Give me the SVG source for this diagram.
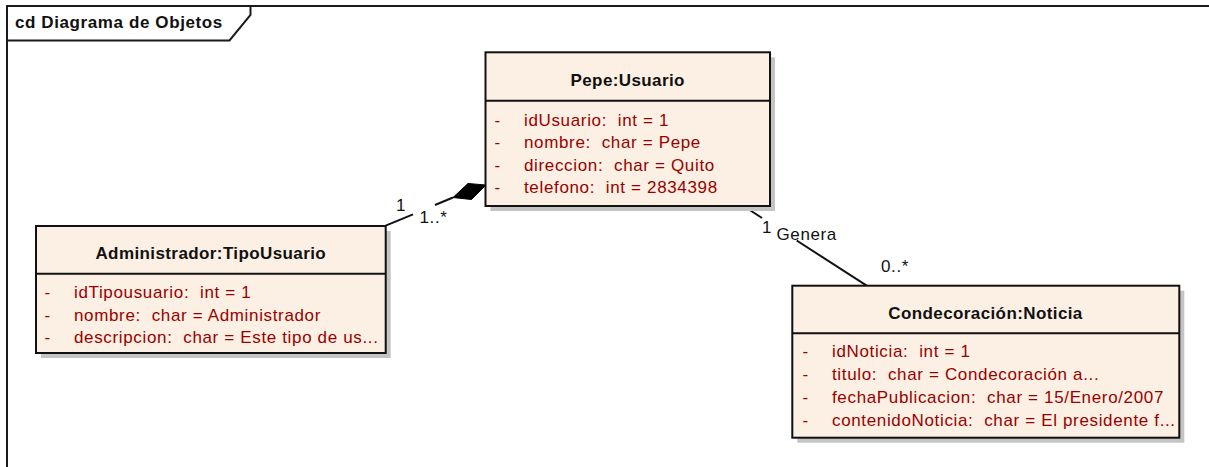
<svg xmlns="http://www.w3.org/2000/svg" width="1209" height="467" viewBox="0 0 1209 467">
<style>
.frame{fill:none;stroke:#1a1a1a;stroke-width:2}
.box{fill:#FBF0E3;stroke:#111;stroke-width:2}
.shadow{fill:#C4C4C4}
.sep{stroke:#111;stroke-width:2}
.title{font-family:"Liberation Sans",Arial,sans-serif;font-weight:bold;font-size:17px;letter-spacing:0.4px;fill:#111;text-anchor:middle}
.attr{font-family:"Liberation Sans",Arial,sans-serif;font-size:17px;letter-spacing:0.65px;fill:#990000;white-space:pre}
.lbl{font-family:"Liberation Sans",Arial,sans-serif;font-size:17px;letter-spacing:0.6px;fill:#111}
.ftitle{font-family:"Liberation Sans",Arial,sans-serif;font-weight:bold;font-size:17px;letter-spacing:0.6px;fill:#111}
.conn{stroke:#111;stroke-width:2;fill:none}
</style>
<rect width="1209" height="467" fill="#ffffff"/>
<g id="frame">
<path class="frame" d="M7,467 V6 H1209"/>
<path class="frame" d="M7,40.5 H229.5 L250.5,15 V6"/>
<text class="ftitle" x="15" y="28">cd Diagrama de Objetos</text>
</g>
<g id="connectors">
<path class="conn" d="M453,197.5 L435,205"/>
<path class="conn" d="M413,214.3 L385.7,225.7"/>
<polygon points="486,185 468,183.5 453,197.5 471.5,199.5" fill="#000" stroke="#000" stroke-width="1"/>
<text class="lbl" x="396" y="210.5">1</text>
<text class="lbl" x="419.5" y="223">1..*</text>
<path class="conn" d="M743.5,206 L762,218"/>
<path class="conn" d="M796.7,240.5 L866.7,285.7"/>
<text class="lbl" x="762" y="232.5">1</text>
<text class="lbl" x="776.5" y="240">Genera</text>
<text class="lbl" x="881" y="271.5">0..*</text>
</g>
<g id="pepe">
<rect class="shadow" x="490.5" y="57.3" width="284.5" height="153.7"/>
<rect class="box" x="485.5" y="52.3" width="284.5" height="153.7"/>
<line class="sep" x1="485.5" y1="100.7" x2="770" y2="100.7"/>
<text class="title" x="627.7" y="86">Pepe:Usuario</text>
<text class="attr" x="494.5" y="125.5">-</text><text class="attr" x="524" y="125.5">idUsuario:&#160; int = 1</text>
<text class="attr" x="494.5" y="148">-</text><text class="attr" x="524" y="148">nombre:&#160; char = Pepe</text>
<text class="attr" x="494.5" y="170.5">-</text><text class="attr" x="524" y="170.5">direccion:&#160; char = Quito</text>
<text class="attr" x="494.5" y="193">-</text><text class="attr" x="524" y="193">telefono:&#160; int = 2834398</text>
</g>
<g id="administrador">
<rect class="shadow" x="41" y="231" width="349.7" height="127"/>
<rect class="box" x="36" y="226" width="349.7" height="127"/>
<line class="sep" x1="36" y1="273.7" x2="385.7" y2="273.7"/>
<text class="title" x="210.8" y="259">Administrador:TipoUsuario</text>
<text class="attr" x="44.5" y="298">-</text><text class="attr" x="74" y="298">idTipousuario:&#160; int = 1</text>
<text class="attr" x="44.5" y="320.5">-</text><text class="attr" x="74" y="320.5">nombre:&#160; char = Administrador</text>
<text class="attr" x="44.5" y="343">-</text><text class="attr" x="74" y="343">descripcion:&#160; char = Este tipo de us...</text>
</g>
<g id="condecoracion">
<rect class="shadow" x="797.3" y="290.7" width="387" height="152"/>
<rect class="box" x="792.3" y="285.7" width="387" height="152"/>
<line class="sep" x1="792.3" y1="333.3" x2="1179.3" y2="333.3"/>
<text class="title" x="985.5" y="319">Condecoración:Noticia</text>
<text class="attr" x="802.5" y="357">-</text><text class="attr" x="832" y="357">idNoticia:&#160; int = 1</text>
<text class="attr" x="802.5" y="380">-</text><text class="attr" x="832" y="380">titulo:&#160; char = Condecoración a...</text>
<text class="attr" x="802.5" y="403">-</text><text class="attr" x="832" y="403">fechaPublicacion:&#160; char = 15/Enero/2007</text>
<text class="attr" x="802.5" y="426">-</text><text class="attr" x="832" y="426">contenidoNoticia:&#160; char = El presidente f...</text>
</g>
</svg>
